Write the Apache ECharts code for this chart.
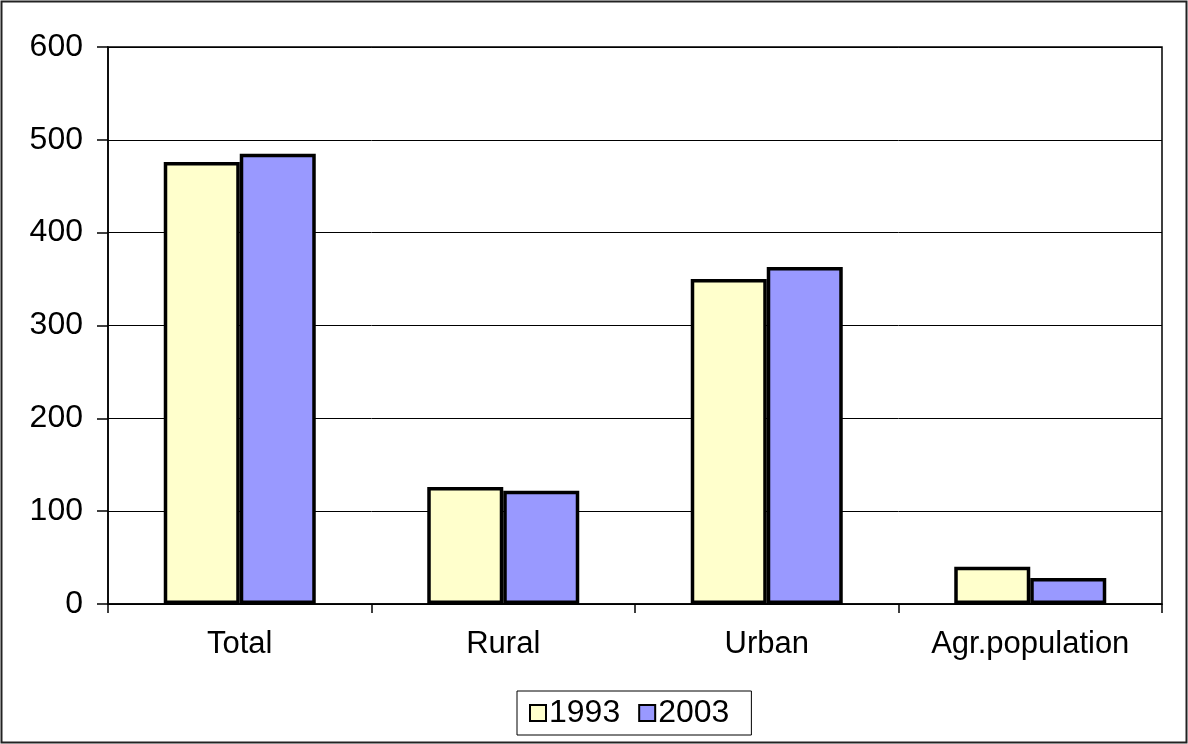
<!DOCTYPE html>
<html>
<head>
<meta charset="utf-8">
<script src="https://cdn.jsdelivr.net/npm/echarts@6/dist/echarts.min.js"></script>
<style>
html,body{margin:0;padding:0;background:#fff;}
#chart{width:1188px;height:744px;}
</style>
</head>
<body>
<div id="chart"></div>
<script>
var categories = ['Total', 'Rural', 'Urban', 'Agr.population'];
var series1993 = [476, 126, 350, 40];
var series2003 = [485, 122, 363, 28];
var yTicks = [0, 100, 200, 300, 400, 500, 600];

var chart = echarts.init(document.getElementById('chart'), null, {renderer: 'canvas'});
var font = 'Liberation Sans, Arial, sans-serif';
chart.setOption({
  animation: false,
  backgroundColor: '#fff',
  graphic: [
    {type: 'rect', shape: {x: 1.5, y: 1.5, width: 1185, height: 741}, style: {fill: 'none', stroke: '#222', lineWidth: 2}, z: 100},
    {type: 'rect', shape: {x: 108, y: 47, width: 1054, height: 557}, style: {fill: 'none', stroke: '#000', lineWidth: 1.5}, z: 0}
  ],
  grid: {left: 108, right: 26, top: 47, bottom: 140, containLabel: false},
  legend: {
    data: ['1993', '2003'],
    bottom: 9,
    left: 517,
    itemWidth: 16,
    itemHeight: 16,
    itemGap: 18,
    icon: 'rect',
    padding: [6, 22, 6, 12],
    borderColor: '#000',
    borderWidth: 1,
    textStyle: {fontFamily: font, fontSize: 32, color: '#000', padding: [2, 0, 0, -2]}
  },
  xAxis: {
    type: 'category',
    data: categories,
    axisLine: {lineStyle: {color: '#000', width: 1.5}},
    axisTick: {show: true, interval: 0, length: 9, lineStyle: {color: '#000', width: 1.5}},
    axisLabel: {interval: 0, hideOverlap: false, fontFamily: font, fontSize: 31, color: '#000', margin: 25}
  },
  yAxis: {
    type: 'value',
    min: 0,
    max: 600,
    interval: 100,
    axisLine: {show: true, lineStyle: {color: '#000', width: 1.5}},
    axisTick: {show: true, length: 11, lineStyle: {color: '#000', width: 1.5}},
    axisLabel: {fontFamily: font, fontSize: 32, color: '#000', margin: 25,
      formatter: function (v) { return yTicks.indexOf(v) >= 0 ? String(v) : ''; }},
    splitLine: {show: true, lineStyle: {color: '#000', width: 1}}
  },
  series: [
    {name: '1993', type: 'bar', data: series1993, barWidth: 76, barGap: '0%',
     itemStyle: {color: '#FFFFCC', borderColor: '#000', borderWidth: 3.5}},
    {name: '2003', type: 'bar', data: series2003, barWidth: 76, barGap: '0%',
     itemStyle: {color: '#9999FF', borderColor: '#000', borderWidth: 3.5}}
  ]
});
</script>
</body>
</html>
